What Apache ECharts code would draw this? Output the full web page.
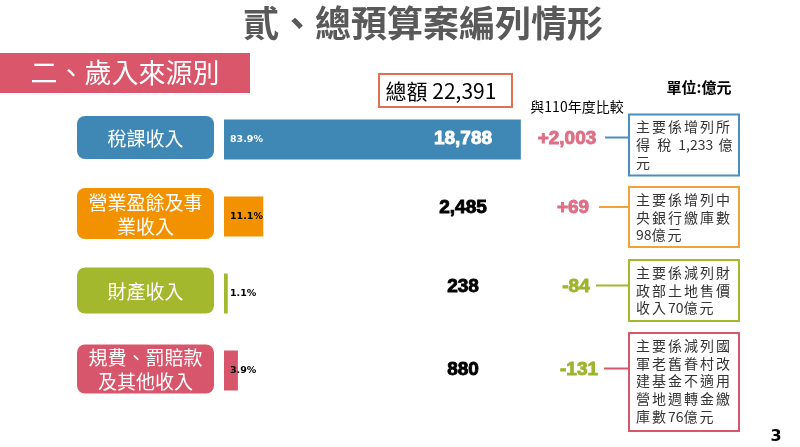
<!DOCTYPE html>
<html><head><meta charset="utf-8">
<script src="https://cdn.jsdelivr.net/npm/echarts@6/dist/echarts.min.js"></script>
<style>html,body{margin:0;padding:0;background:#fff}#c{width:800px;height:447px}</style>
</head><body><div id="c"></div>
<script>
// ---- data ----
const categories = ['稅課收入', '營業盈餘及事\n業收入', '財產收入', '規費、罰賠款\n及其他收入'];
const amounts = [18788, 2485, 238, 880];
const shares = ['83.9%', '11.1%', '1.1%', '3.9%'];
const changes = ['+2,003', '+69', '-84', '-131'];
const notes = [
  ['主要係增列所', '得 稅 1,233 億', '元'],
  ['主要係增列中', '央銀行繳庫數', '98億元'],
  ['主要係減列財', '政部土地售價', '收入70億元'],
  ['主要係減列國', '軍老舊眷村改', '建基金不適用', '營地週轉金繳', '庫數76億元']
];
const totalText = '總額 22,391';
const titleText = '貳、總預算案編列情形';
const sectionText = '二、歲入來源別';
const unitText = '單位:億元';
const compareText = '與110年度比較';
const pageNo = '3';

// ---- styles / layout ----
const rowColors = ['#3F88B6', '#F39200', '#A4B82E', '#D7566B'];
const noteBorder = ['#4A8FC1', '#F1A23A', '#A4B82E', '#D7566B'];
const changeColors = ['#DD6F86', '#DD6F86', '#9CB52C', '#9CB52C'];
const L = {
  boxDy: [-2, -3, -3, -1.5], boxH: [43, 51, 46, 49],
  textDy: [-1, -8.5, -7, -1],
  changeDx: [343, 349, 352, 355],
  lineX: [381, 375, 372, 380],
  noteTop: [-25, -29.5, -33.5, -37.5], noteH: [61, 60, 61, 98]
};
const CJK = '"Noto Sans CJK TC", "Noto Sans CJK SC", sans-serif';
const NUM = '"Liberation Sans", Arial, sans-serif';
const HEAVY = '"DejaVu Sans", Verdana, sans-serif';

const mctx = document.createElement('canvas').getContext('2d');
function spacedLine(str, x, y, font, spacing, color) {
  mctx.font = font;
  const out = [];
  let cx = x;
  for (const ch of str) {
    out.push({type: 'text', style: {x: cx, y: y, text: ch, fill: color, font: font,
      align: 'left', verticalAlign: 'middle', textAlign: 'left', textVerticalAlign: 'middle'}});
    const w = mctx.measureText(ch).width;
    cx += w + ((ch.charCodeAt(0) > 0x2E80 || ch === ' ') ? spacing : 0);
  }
  return out;
}
function txt(x, y, text, fill, font, align, extra) {
  return Object.assign({x: x, y: y, text: text, fill: fill, font: font,
    align: align || 'center', verticalAlign: 'middle', textAlign: align || 'center', textVerticalAlign: 'middle'}, extra || {});
}

function renderRow(params, api) {
  const i = params.dataIndex;
  const p = api.coord([api.value(0), api.value(1)]);
  const x0 = p[0], yc = p[1];
  const ch = [];
  // category label box
  const bh = L.boxH[i], by = yc + L.boxDy[i] - bh / 2;
  ch.push({type: 'rect', shape: {x: x0 - 147, y: by, width: 137, height: bh, r: 8}, style: {fill: rowColors[i]}});
  ch.push({type: 'text', style: txt(x0 - 147 + 68.5, by + bh / 2 + 1, categories[i], '#fff', '19px ' + CJK, 'center', {lineHeight: 24})});
  // amount
  const ty = yc + L.textDy[i];
  const ac = i === 0 ? '#fff' : '#000';
  ch.push({type: 'text', style: txt(x0 + 239, ty, amounts[i].toLocaleString('en-US'), ac, 'bold 19px ' + NUM, 'center',
    {stroke: ac, lineWidth: 0.9})});
  // change vs previous year
  ch.push({type: 'text', style: txt(x0 + L.changeDx[i], ty, changes[i], changeColors[i], 'bold 19px ' + NUM, 'center',
    {stroke: changeColors[i], lineWidth: 0.9})});
  // connector
  ch.push({type: 'line', shape: {x1: x0 + L.lineX[i], y1: ty - 1, x2: x0 + 405, y2: ty - 1}, style: {stroke: noteBorder[i], lineWidth: 2}});
  // note box
  const nx = x0 + 405, ny = yc + L.noteTop[i], nh = L.noteH[i];
  ch.push({type: 'rect', shape: {x: nx, y: ny, width: 110, height: nh}, style: {fill: '#fff', stroke: noteBorder[i], lineWidth: 2}});
  notes[i].forEach((line, k) => {
    spacedLine(line, nx + 7, ny + 12.5 + k * 17.8, '14px ' + CJK, 2, '#333').forEach(e => ch.push(e));
  });
  return {type: 'group', children: ch};
}

const chart = echarts.init(document.getElementById('c'));
chart.setOption({
  animation: false,
  grid: {left: 224, top: 101, width: 316, height: 308},
  xAxis: {type: 'value', min: 0, max: 20000, show: false},
  yAxis: {type: 'category', data: categories, inverse: true, show: false},
  series: [
    {
      type: 'bar', barWidth: 40, z: 2,
      data: amounts.map((v, i) => ({value: v, itemStyle: {color: rowColors[i]},
        label: {color: i === 0 ? '#fff' : '#000'}})),
      label: {show: true, position: 'insideLeft', distance: 6, fontSize: 9.5, fontWeight: 'bold', fontFamily: HEAVY,
        formatter: p => shares[p.dataIndex]}
    },
    {
      type: 'custom', z: 3, clip: false,
      encode: {x: 0, y: 1},
      data: amounts.map((v, i) => [0, i]),
      renderItem: renderRow
    }
  ],
  graphic: [
    {type: 'text', style: txt(423, 23, titleText, '#595959', 'bold 36px ' + CJK)},
    {type: 'rect', shape: {x: 0, y: 53, width: 250, height: 40}, style: {fill: '#D9566B'}},
    {type: 'text', style: txt(125, 73, sectionText, '#fff', '27px ' + CJK)},
    {type: 'rect', shape: {x: 379, y: 74, width: 133, height: 33}, style: {fill: '#fff', stroke: '#E2704F', lineWidth: 2}},
    {type: 'text', style: txt(441, 91, totalText, '#000', '21px ' + CJK)},
    {type: 'text', style: txt(699, 87, unitText, '#000', 'bold 15px ' + CJK)},
    {type: 'text', style: txt(577, 107, compareText, '#000', '14px ' + CJK)},
    {type: 'text', style: txt(776, 437, pageNo, '#000', 'bold 16px ' + HEAVY)}
  ]
});
</script></body></html>
